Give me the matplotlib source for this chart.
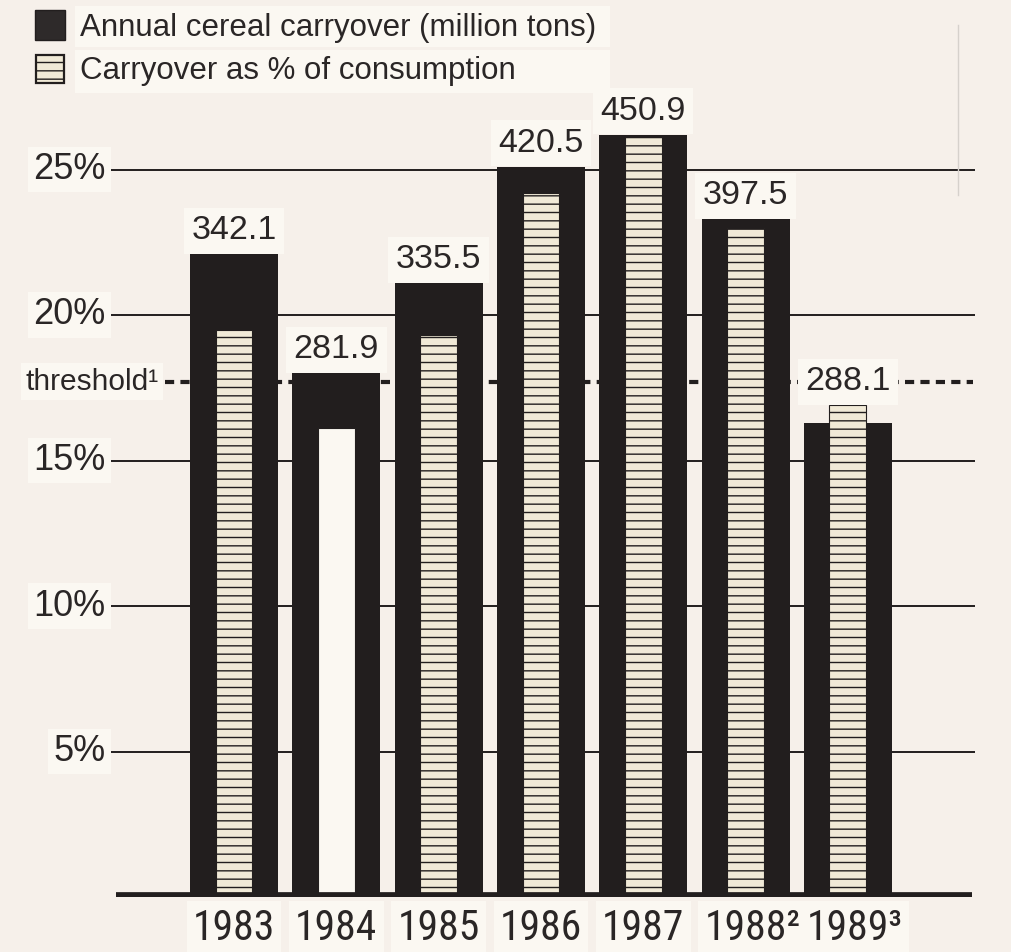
import matplotlib.pyplot as plt
from matplotlib import font_manager
from matplotlib.patches import Rectangle

# Data ------------------------------------------------------------------------
years = ['1983', '1984', '1985', '1986', '1987', '1988²', '1989³']
carryover_mt = [342.1, 281.9, 335.5, 420.5, 450.9, 397.5, 288.1]
pct_consumption = [19.5, 16.1, 19.3, 24.2, 26.1, 23.0, 16.9]
outer_bar_height = [22.1, 18.0, 21.1, 25.1, 26.2, 23.3, 16.3]
hatched = [True, False, True, True, True, True, True]
threshold_pct = 17.7
grid_pct = [5, 10, 15, 20, 25]
grid_labels = ['5%', '10%', '15%', '20%', '25%']

# Style -----------------------------------------------------------------------
bg = '#f6f0ea'
paper = '#fbf8f2'
ink = '#221e1e'
txt = '#2a2626'
cream = '#f1ead7'
font = ['Liberation Sans', 'DejaVu Sans']
plt.rcParams['hatch.linewidth'] = 1.0
plt.rcParams['font.family'] = font

# a condensed face for the year labels, if one is installed
year_prop = None
for pref in ['Liberation Sans Narrow', 'Roboto Condensed', 'DejaVu Sans Condensed', 'DejaVu Sans']:
    for f in font_manager.fontManager.ttflist:
        cond = ('Narrow' in f.name or 'Condensed' in f.name
                or 'ondensed' in str(f.stretch) or 'Condensed' in f.fname)
        if f.name.startswith(pref.split(' Narrow')[0].split(' Condensed')[0]) and cond \
                and f.style == 'normal' and f.weight in (400, 'normal', 'regular', 'book') \
                and 'Oblique' not in f.fname and 'Bold' not in f.fname:
            year_prop = font_manager.FontProperties(fname=f.fname, size=30)
            break
    if year_prop is not None:
        break
if year_prop is None:
    year_prop = font_manager.FontProperties(family=font, size=26)

fig = plt.figure(figsize=(10.12, 9.52), dpi=100, facecolor=bg)
ax = fig.add_axes([108/1012, 55/952, 867/1012, 873/952])
ax.set_facecolor('none')
ax.set_xlim(-1.232, 7.243)
ax.set_ylim(0, 30)
ax.axis('off')

x = list(range(len(years)))
box = dict(boxstyle='square,pad=0.15', facecolor=paper, edgecolor='none')
vbox = dict(boxstyle='square,pad=0.22', facecolor=paper, edgecolor='none')

# gridlines and threshold
for g, lab in zip(grid_pct, grid_labels):
    ax.axhline(g, 0, 1, color=ink, lw=1.4, zorder=1)
    ax.text(-0.003, g, lab, transform=ax.get_yaxis_transform(), ha='right',
            va='center', fontsize=26, color=txt, bbox=box, zorder=5)
ax.axhline(threshold_pct, 0.066, 0.998, color=ink, lw=3, ls=(0, (2.2, 1.5)),
           zorder=1.5)
ax.text(0.058, threshold_pct, 'threshold¹', transform=ax.get_yaxis_transform(),
        ha='right', va='center', fontsize=21.5, color=txt, bbox=box,
        zorder=5)

# bars
ax.bar(x, outer_bar_height, width=0.86, color=ink, zorder=2)
for xi, p, h in zip(x, pct_consumption, hatched):
    if h:
        ax.bar(xi, p, width=0.36, color=cream, edgecolor=ink, lw=0.8,
               hatch='--', zorder=3)
    else:
        ax.bar(xi, p, width=0.36, color=paper, edgecolor=ink, lw=0.8,
               zorder=3)
ax.hlines(0, -1.153, 7.214, color=ink, lw=7, zorder=4)

# value labels and years
for xi, v, p, o in zip(x, carryover_mt, pct_consumption, outer_bar_height):
    ax.text(xi, max(p, o) + 0.8, f'{v:.1f}', ha='center', va='center',
            fontsize=24.5, color=txt, bbox=vbox, zorder=5)
for xi, yr in zip(x, years):
    ax.text(xi + (0.07 if len(yr) > 4 else 0), -1.07, yr, ha='center',
            va='center', fontproperties=year_prop, color=txt,
            bbox=box, zorder=5)

# legend (pixel coordinates overlay)
lg = fig.add_axes([0, 0, 1, 1])
lg.set_facecolor('none')
lg.set_xlim(0, 1012)
lg.set_ylim(952, 0)
lg.axis('off')
lg.add_patch(Rectangle((75, 6), 535, 41, facecolor=paper, edgecolor='none'))
lg.add_patch(Rectangle((75, 50), 535, 43, facecolor=paper, edgecolor='none'))
lg.add_patch(Rectangle((35, 10), 30, 30, facecolor='#2e2a2a', edgecolor=ink))
lg.add_patch(Rectangle((36, 55), 28, 28, facecolor=cream, edgecolor=ink,
                       lw=1.6, hatch='--'))
lg.text(80, 28, 'Annual cereal carryover (million tons)', va='center',
        fontsize=22.5, color=txt)
lg.text(80, 71, 'Carryover as % of consumption', va='center', fontsize=22.5,
        color=txt)
lg.plot([958, 958], [25, 195], color='#d6d1cc', lw=1)

fig.savefig('out.png', dpi=100, facecolor=bg)
